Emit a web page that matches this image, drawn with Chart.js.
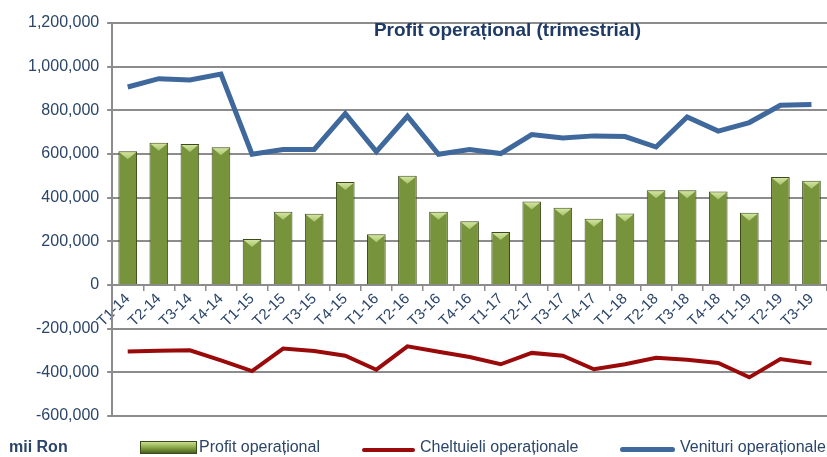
<!DOCTYPE html>
<html>
<head>
<meta charset="utf-8">
<script src="https://cdn.jsdelivr.net/npm/chart.js@4"></script>
<style>
  body { margin: 0; background: #fff; font-family: "Liberation Sans", Arial, sans-serif; }
  #wrap { position: relative; width: 827px; height: 457px; }
  #title { position: absolute; left: 0; width: 1015px; top: 19px; text-align: center; font-weight: bold; font-size: 19px; color: #1F3A66; }
  .leg { position: absolute; top: 438px; font-size: 16px; color: #2B4569; white-space: nowrap; }
  .sw { position: absolute; }
</style>
</head>
<body>
<div id="wrap">
  <canvas id="myChart" width="827" height="457"></canvas>
  <div id="title">Profit operațional (trimestrial)</div>
  <div class="leg" style="left:9px; font-weight:bold; color:#2B4569;">mii Ron</div>
  <div class="sw" id="swBar" style="left:140px; top:441px; width:55px; height:11px;"></div>
  <div class="leg" style="left:199px;">Profit operațional</div>
  <div class="sw" style="left:362px; top:448px; width:53px; height:4px; background:#9A0A0A; border-radius:2px;"></div>
  <div class="leg" style="left:420px;">Cheltuieli operaționale</div>
  <div class="sw" style="left:620px; top:447px; width:55px; height:5px; background:#3F689C; border-radius:3px;"></div>
  <div class="leg" style="left:680px;">Venituri operaționale</div>
</div>
<script>
// trimestre
const quarters = ['T1-14', 'T2-14', 'T3-14', 'T4-14', 'T1-15', 'T2-15', 'T3-15', 'T4-15',
    'T1-16', 'T2-16', 'T3-16', 'T4-16', 'T1-17', 'T2-17', 'T3-17', 'T4-17',
    'T1-18', 'T2-18', 'T3-18', 'T4-18', 'T1-19', 'T2-19', 'T3-19'];

const profitOperational = [613000, 652000, 646000, 631000, 211000, 335000, 326000, 472000,
    232000, 500000, 336000, 292000, 243000, 383000, 354000, 304000,
    327000, 434000, 434000, 428000, 331000, 495000, 478000];

const cheltuieliOperationale = [-305000, -301000, -299000, -345000, -394000, -291000, -302000, -324000,
    -388000, -281000, -306000, -330000, -363000, -311000, -324000, -386000,
    -363000, -333000, -342000, -357000, -423000, -339000, -359000];

const venituriOperationale = [907000, 945000, 939000, 966000, 599000, 621000, 621000, 785000,
    611000, 773000, 599000, 621000, 602000, 689000, 673000, 683000,
    680000, 632000, 770000, 705000, 744000, 823000, 827000];

const yTicks = { min: -600000, max: 1200000, step: 200000 };

const textColor = '#2B4569';
const gridColor = '#8C8C8C';

function barFill(ctx) {
    const el = ctx.element;
    const c = ctx.chart.ctx;
    if (!el || el.x === undefined || !el.width) return '#77933C';
    const l = el.x - el.width / 2, r = el.x + el.width / 2;
    const g = c.createLinearGradient(l, 0, r, 0);
    g.addColorStop(0, '#4A5E22');
    g.addColorStop(0.3, '#7A9A3E');
    g.addColorStop(0.6, '#7C9B40');
    g.addColorStop(1, '#3E4F1B');
    return g;
}

// light bevel triangle on top of each bar
const bevelPlugin = {
    id: 'bevel',
    afterDatasetDraw(chart, args) {
        if (args.index !== 0) return;
        const c = chart.ctx;
        const meta = chart.getDatasetMeta(0);
        c.save();
        meta.data.forEach(bar => {
            const w = bar.width;
            const l = bar.x - w / 2 + 1, r = bar.x + w / 2 - 1;
            const g = c.createLinearGradient(0, bar.y, 0, bar.y + 8);
            g.addColorStop(0, '#D8E8A8');
            g.addColorStop(1, '#A9C46A');
            c.fillStyle = g;
            c.beginPath();
            c.moveTo(l, bar.y + 1);
            c.lineTo(r, bar.y + 1);
            c.lineTo(bar.x, bar.y + 8);
            c.closePath();
            c.fill();
        });
        c.restore();
    }
};

const chart = new Chart(document.getElementById('myChart'), {
    data: {
        labels: quarters,
        datasets: [
            {
                type: 'bar',
                label: 'Profit operațional',
                data: profitOperational,
                backgroundColor: barFill,
                borderColor: '#3A4A1A',
                borderWidth: 1,
                barPercentage: 0.6,
                categoryPercentage: 1,
                order: 3,
            },
            {
                type: 'line',
                label: 'Cheltuieli operaționale',
                data: cheltuieliOperationale,
                borderColor: '#9A0A0A',
                borderWidth: 4,
                pointRadius: 0,
                tension: 0,
                order: 2,
            },
            {
                type: 'line',
                label: 'Venituri operaționale',
                data: venituriOperationale,
                borderColor: '#3F689C',
                borderWidth: 5,
                pointRadius: 0,
                tension: 0,
                order: 1,
            },
        ],
    },
    options: {
        responsive: false,
        animation: false,
        layout: { padding: { top: 23, right: 0, bottom: 41, left: 20 } },
        plugins: { legend: { display: false }, tooltip: { enabled: false }, title: { display: false } },
        scales: {
            x: {
                type: 'category',
                position: { y: 0 },
                offset: true,
                grid: { drawOnChartArea: false, offset: true, tickLength: 5, color: gridColor, lineWidth: 1.5 },
                border: { display: true, color: gridColor, width: 2 },
                ticks: {
                    autoSkip: false,
                    maxRotation: 45,
                    minRotation: 45,
                    padding: 0,
                    color: textColor,
                    font: { family: 'Liberation Sans', size: 15 },
                },
            },
            y: {
                min: yTicks.min,
                max: yTicks.max,
                grid: { color: gridColor, lineWidth: 2, tickLength: 5 },
                border: { display: true, color: gridColor, width: 2 },
                ticks: {
                    stepSize: yTicks.step,
                    padding: 8,
                    color: textColor,
                    font: { family: 'Liberation Sans', size: 16 },
                    callback: v => v.toLocaleString('en-US'),
                },
            },
        },
    },
    plugins: [bevelPlugin],
});

// legend swatch for bars
const sw = document.getElementById('swBar');
sw.style.background = 'linear-gradient(to bottom, #C9DC92 0%, #9DBA5A 35%, #6F8C34 70%, #4A5E22 100%)';
sw.style.border = '1px solid #3A4A1A';
</script>
</body>
</html>
